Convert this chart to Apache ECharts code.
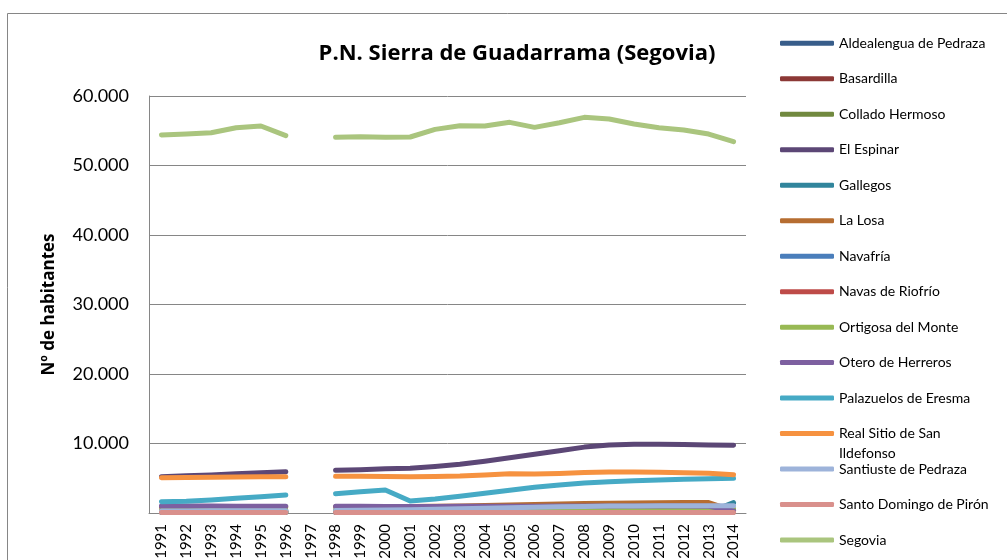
<!DOCTYPE html>
<html>
<head>
<meta charset="utf-8">
<title>P.N. Sierra de Guadarrama (Segovia)</title>
<script src="https://cdn.jsdelivr.net/npm/echarts@6/dist/echarts.min.js"></script>
<style>
  html, body { margin: 0; padding: 0; background: #fff; }
  #chart { width: 1007px; height: 560px; }
</style>
</head>
<body>
<div id="chart"></div>
<script>
// años (1997 sin dato)
var years = ['1991', '1992', '1993', '1994', '1995', '1996', '1997', '1998', '1999', '2000', '2001', '2002',
    '2003', '2004', '2005', '2006', '2007', '2008', '2009', '2010', '2011', '2012', '2013', '2014'];

var names = ['Aldealengua de Pedraza', 'Basardilla', 'Collado Hermoso', 'El Espinar', 'Gallegos', 'La Losa',
    'Navafría', 'Navas de Riofrío', 'Ortigosa del Monte', 'Otero de Herreros', 'Palazuelos de Eresma',
    'Real Sitio de San Ildefonso', 'Santiuste de Pedraza', 'Santo Domingo de Pirón', 'Segovia'];

var colors = ['#385D8A', '#8C3836', '#71893F', '#5C4776', '#31859C', '#B66D31',
    '#4A7EBB', '#BE4B48', '#98B954', '#7D60A0', '#46AAC5', '#F69240',
    '#9DB3DA', '#D9908C', '#AAC57E'];

// valores por municipio
var aldealengua = [150, 148, 147, 145, 141, 139, null, 136, 133, 131, 128, 126, 124, 121, 119, 118, 116, 114, 113, 111, 109, 107, 105, 103];
var basardilla = [140, 142, 141, 145, 147, 150, null, 152, 150, 155, 158, 160, 162, 165, 167, 170, 172, 171, 174, 176, 175, 173, 170, 168];
var colladoHermoso = [130, 133, 135, 134, 138, 140, null, 141, 143, 145, 147, 150, 152, 155, 154, 158, 160, 161, 163, 162, 160, 159, 157, 155];
var elEspinar = [5230, 5350, 5480, 5650, 5780, 5950, null, 6140, 6230, 6380, 6450, 6700, 7000, 7450, 7950, 8450, 8950, 9480, 9780, 9880, 9880, 9860, 9800, 9760];
var gallegos = [110, 108, 107, 105, 104, 102, null, 100, 101, 99, 98, 97, 96, 95, 94, 94, 93, 92, 91, 90, 90, 89, 88, 1500];
var laLosa = [800, 810, 820, 830, 840, 850, null, 880, 900, 920, 940, 980, 1020, 1080, 1150, 1220, 1300, 1380, 1420, 1450, 1480, 1500, 1500, 300];
var navafria = [370, 368, 365, 362, 360, 358, null, 355, 352, 350, 350, 348, 346, 345, 344, 343, 342, 341, 340, 340, 339, 338, 337, 336];
var navasRiofrio = [270, 275, 280, 286, 290, 295, null, 300, 305, 310, 318, 325, 332, 340, 350, 358, 365, 372, 380, 385, 390, 392, 390, 388];
var ortigosa = [330, 340, 350, 360, 370, 380, null, 395, 410, 425, 440, 460, 480, 500, 520, 540, 560, 580, 595, 605, 615, 620, 618, 615];
var otero = [1000, 995, 990, 985, 980, 975, null, 960, 955, 950, 945, 950, 955, 965, 975, 985, 995, 1005, 1010, 1005, 1000, 990, 980, 300];
var palazuelos = [1630, 1680, 1870, 2110, 2350, 2590, null, 2780, 3070, 3310, 1730, 2000, 2400, 2850, 3280, 3690, 4030, 4320, 4510, 4650, 4740, 4840, 4940, 4990];
var realSitio = [5080, 5110, 5150, 5190, 5210, 5230, null, 5300, 5290, 5260, 5230, 5260, 5320, 5470, 5640, 5610, 5700, 5830, 5900, 5900, 5850, 5800, 5720, 5500];
var santiuste = [300, 305, 310, 315, 320, 325, null, 350, 380, 420, 470, 530, 600, 680, 760, 840, 900, 950, 990, 1010, 1030, 1040, 1050, 1050];
var santoDomingo = [75, 74, 72, 70, 69, 68, null, 66, 65, 64, 63, 62, 61, 60, 60, 59, 58, 58, 57, 56, 56, 55, 55, 54];
var segovia = [54390, 54530, 54720, 55440, 55680, 54290, null, 54050, 54150, 54050, 54100, 55200, 55730, 55680, 56210, 55490, 56160, 56930, 56690, 55970, 55440, 55110, 54530, 53430];

var values = [aldealengua, basardilla, colladoHermoso, elEspinar, gallegos, laLosa, navafria, navasRiofrio,
    ortigosa, otero, palazuelos, realSitio, santiuste, santoDomingo, segovia];

var yTicks = [0, 10000, 20000, 30000, 40000, 50000, 60000];

var font = 'Lato, "Open Sans", sans-serif';

function fmtMiles(v) {
    return String(v).replace(/\B(?=(\d{3})+(?!\d))/g, '.');
}

var chart = echarts.init(document.getElementById('chart'));

// una leyenda por municipio para fijar la posición de cada línea
var legends = names.map(function (name, i) {
    var center = 43.3 + i * 35.48;
    var wrap = name === 'Real Sitio de San Ildefonso';
    return {
        orient: 'vertical',
        left: 775,
        top: wrap ? center - 30 - 5 : center - 8 - 5,
        data: [name],
        icon: 'roundRect',
        itemWidth: 54,
        itemHeight: 5,
        selectedMode: false,
        // el nombre largo se parte en dos líneas; la primera queda a la altura de la línea
        formatter: wrap ? '{e| }\n{b|Real Sitio de San}\n{b|Ildefonso}' : '{name}',
        textStyle: {
            fontFamily: font,
            fontSize: 14,
            lineHeight: 16,
            color: '#000',
            rich: {
                e: { height: 20, lineHeight: 20, fontSize: 14 },
                b: { height: 20, lineHeight: 20, fontSize: 14, fontFamily: font, color: '#000' }
            }
        }
    };
});

chart.setOption({
    animation: false,
    color: colors,
    title: {
        text: 'P.N. Sierra de Guadarrama (Segovia)',
        left: 512,
        top: 38,
        textAlign: 'center',
        textStyle: { fontFamily: '"Open Sans", Lato, sans-serif', fontSize: 22, fontWeight: 'bold', color: '#000' }
    },
    legend: legends,
    grid: { left: 149, top: 96, right: 261, bottom: 47, outerBoundsMode: 'none' },
    graphic: [{
        type: 'rect',
        shape: { x: 7.5, y: 13.5, width: 1020, height: 580 },
        style: { fill: 'none', stroke: '#868686', lineWidth: 1 },
        silent: true
    }],
    xAxis: {
        type: 'category',
        data: years,
        boundaryGap: true,
        axisLine: { lineStyle: { color: '#868686', width: 1 } },
        axisTick: { show: false },
        axisLabel: { interval: 0, rotate: 90, margin: 11, fontFamily: font, fontSize: 15, color: '#000' }
    },
    yAxis: {
        type: 'value',
        min: yTicks[0],
        max: yTicks[yTicks.length - 1],
        interval: yTicks[1] - yTicks[0],
        name: 'Nº de habitantes',
        nameLocation: 'middle',
        nameRotate: 90,
        nameGap: 91,
        nameTextStyle: { fontFamily: '"Open Sans", Lato, sans-serif', fontSize: 17, fontWeight: 'bold', color: '#000' },
        axisLine: { show: true, lineStyle: { color: '#868686', width: 1 } },
        axisTick: { show: false },
        splitLine: { lineStyle: { color: '#868686', width: 1 } },
        axisLabel: {
            margin: 20,
            fontFamily: font,
            fontSize: 18,
            color: '#000',
            showMinLabel: false,
            formatter: function (v) { return fmtMiles(v); }
        }
    },
    series: names.map(function (name, i) {
        return {
            name: name,
            type: 'line',
            data: values[i],
            showSymbol: false,
            connectNulls: false,
            lineStyle: { width: 5, cap: 'round', join: 'round' }
        };
    })
});
</script>
</body>
</html>
